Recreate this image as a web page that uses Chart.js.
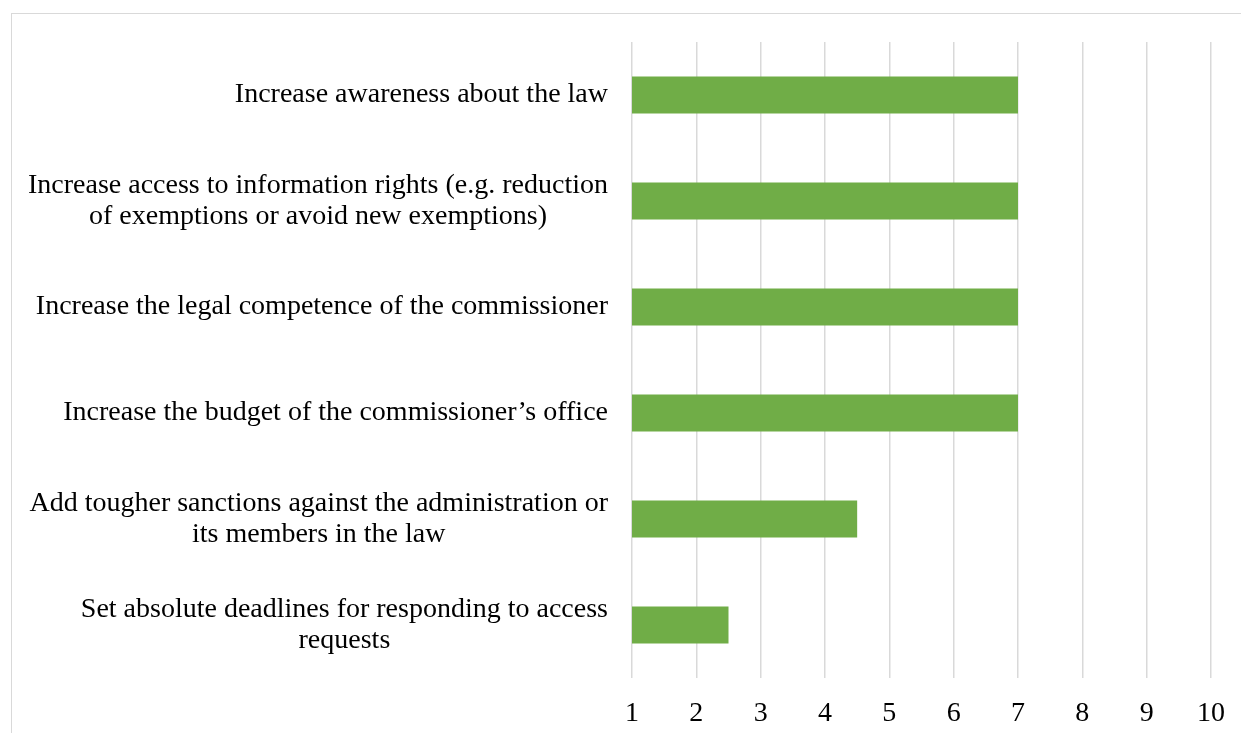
<!DOCTYPE html>
<html>
<head>
<meta charset="utf-8">
<script src="https://cdn.jsdelivr.net/npm/chart.js@4"></script>
<style>
  html, body { margin: 0; padding: 0; background: #fff; overflow: hidden; }
  #frame {
    position: absolute; left: 11px; top: 13px;
    width: 1300px; height: 800px;
    border-left: 1.5px solid #d9d9d9; border-top: 1.5px solid #d9d9d9;
  }
  #wrap { position: absolute; left: 0; top: 0; width: 1241px; height: 733px; }
</style>
</head>
<body>
<div id="frame"></div>
<div id="wrap"><canvas id="barChart"></canvas></div>
<script>
// Measures, wrapped the way they are printed
const categories = [
    ['Increase awareness about the law'],
    ['Increase access to information rights (e.g. reduction', 'of exemptions or avoid new exemptions)'],
    ['Increase the legal competence of the commissioner'],
    ['Increase the budget of the commissioner\u2019s office'],
    ['Add tougher sanctions against the administration or', 'its members in the law'],
    ['Set absolute deadlines for responding to access', 'requests']
];
const scores = [7, 7, 7, 7, 4.5, 2.5];
const tickValues = [1, 2, 3, 4, 5, 6, 7, 8, 9, 10];

const FONT = '"Liberation Serif", "Times New Roman", serif';
const FONT_SIZE = 28;

// Category labels: block right aligned to the axis, lines centred in the block
const categoryLabels = {
    id: 'categoryLabels',
    afterDraw(chart) {
        const ctx = chart.ctx;
        const yScale = chart.scales.y;
        const right = chart.chartArea.left - 24;
        const lineH = 31;
        ctx.save();
        ctx.font = FONT_SIZE + 'px ' + FONT;
        ctx.fillStyle = '#000';
        ctx.textAlign = 'center';
        ctx.textBaseline = 'middle';
        chart.data.labels.forEach((lines, i) => {
            const y = yScale.getPixelForValue(i);
            const w = Math.max(...lines.map(l => ctx.measureText(l).width));
            const cx = right - w / 2;
            const y0 = y - (lines.length - 1) * lineH / 2;
            lines.forEach((l, j) => ctx.fillText(l, cx, y0 + j * lineH));
        });
        ctx.restore();
    }
};

const ctx = document.getElementById('barChart');
new Chart(ctx, {
    type: 'bar',
    data: {
        labels: categories,
        datasets: [{
            label: 'Score',
            data: scores,
            backgroundColor: '#70ad47',
            barPercentage: 0.35,
            categoryPercentage: 1
        }]
    },
    options: {
        indexAxis: 'y',
        responsive: true,
        maintainAspectRatio: false,
        animation: false,
        layout: { padding: { top: 42, right: 30, left: 0, bottom: 0 } },
        plugins: { legend: { display: false }, tooltip: { enabled: false } },
        scales: {
            x: {
                min: tickValues[0],
                max: tickValues[tickValues.length - 1],
                afterBuildTicks: (scale) => { scale.ticks = tickValues.map(v => ({ value: v })); },
                afterFit: (scale) => {
                    scale.height = 55;
                    scale.paddingLeft = 0;
                    scale.paddingRight = 0;
                },
                border: { display: false },
                grid: { color: '#d9d9d9', lineWidth: 1.5, drawTicks: false },
                ticks: {
                    color: '#000',
                    padding: 19,
                    font: { family: FONT, size: FONT_SIZE }
                }
            },
            y: {
                afterFit: (scale) => { scale.width = 632; },
                border: { display: false },
                grid: { display: false },
                ticks: { display: false }
            }
        }
    },
    plugins: [categoryLabels]
});
</script>
</body>
</html>
